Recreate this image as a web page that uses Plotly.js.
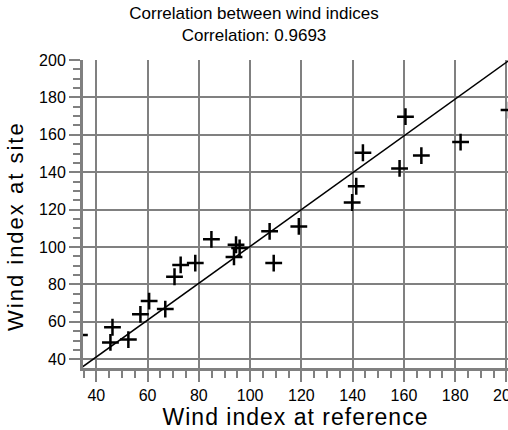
<!DOCTYPE html>
<html>
<head>
<meta charset="utf-8">
<script src="https://cdn.plot.ly/plotly-3.0.1.min.js"></script>
<style>html,body{margin:0;padding:0;background:#fff;overflow:hidden;}#chart{width:508px;height:430px;}</style>
</head>
<body>
<div id="chart"></div>
<script>
// Wind index at reference (x) vs wind index at site (y)
const windRef  = [33.4, 45.5, 46.3, 52.5, 57.2, 60.6, 66.9, 70.5, 72.9, 78.6, 84.9, 94.5, 95.9, 93.7, 107.6, 109.2, 119.0, 139.8, 141.4, 144.0, 158.3, 160.6, 166.8, 182.1, 201.0];
const windSite = [53.0, 49.0, 57.1, 50.5, 64.0, 71.1, 66.8, 84.1, 90.4, 91.4, 104.1, 101.2, 99.5, 94.7, 108.4, 91.4, 111.0, 123.8, 132.5, 150.4, 142.0, 169.7, 148.9, 156.1, 173.2];
// Fitted line end points
const fitX = [30, 205];
const fitY = [31.4, 203.7];
const titleLines = ["Correlation between wind indices", "Correlation: 0.9693"];
const xTitle = "Wind index at reference";
const yTitle = "Wind index at site";

const GRAY = "#808080";
const FONT = "Liberation Sans, Arial, sans-serif";

const traces = [
  {x: fitX, y: fitY, mode: "lines", type: "scatter", line: {color: "#000", width: 1.5}, hoverinfo: "skip"},
  {x: windRef, y: windSite, mode: "markers", type: "scatter",
   marker: {symbol: "cross-thin", size: 12, color: "#000", line: {color: "#000", width: 2.5}}}
];

function axis(range, titleText, size, spacing, standoff) {
  return {
    range: range, tick0: 0, dtick: 20,
    ticks: "outside", ticklen: 11, tickwidth: 2, tickcolor: GRAY,
    ticklabeloverflow: "allow",
    showline: true, linecolor: GRAY, linewidth: 3,
    showgrid: true, gridcolor: GRAY, gridwidth: 2,
    zeroline: false, fixedrange: true,
    tickfont: {family: FONT, size: 16, color: "#000"},
    minor: {dtick: 5, ticks: "outside", ticklen: 7, tickwidth: 2, tickcolor: GRAY, showgrid: false},
    title: {text: '<span style="letter-spacing:' + spacing + 'px">' + titleText + '</span>',
            font: {family: FONT, size: size, color: "#000"}, standoff: standoff}
  };
}

const layout = {
  width: 508, height: 430,
  margin: {l: 83, r: 0, t: 60, b: 62, pad: 0},
  paper_bgcolor: "#fff", plot_bgcolor: "#fff",
  showlegend: false,
  title: {text: titleLines.join("<br>"), font: {family: FONT, size: 17, color: "#000"},
          x: 0.5, xref: "container", xanchor: "center", y: 1 - 19/430, yref: "container", yanchor: "top"},
  xaxis: axis([34.8, 200.6], xTitle, 23, 1, 4),
  yaxis: axis([35.3, 200.0], yTitle + "\u00a0\u00a0\u00a0", 22, 2, 10)
};

Plotly.newPlot("chart", traces, layout, {displayModeBar: false, staticPlot: true});
</script>
</body>
</html>
